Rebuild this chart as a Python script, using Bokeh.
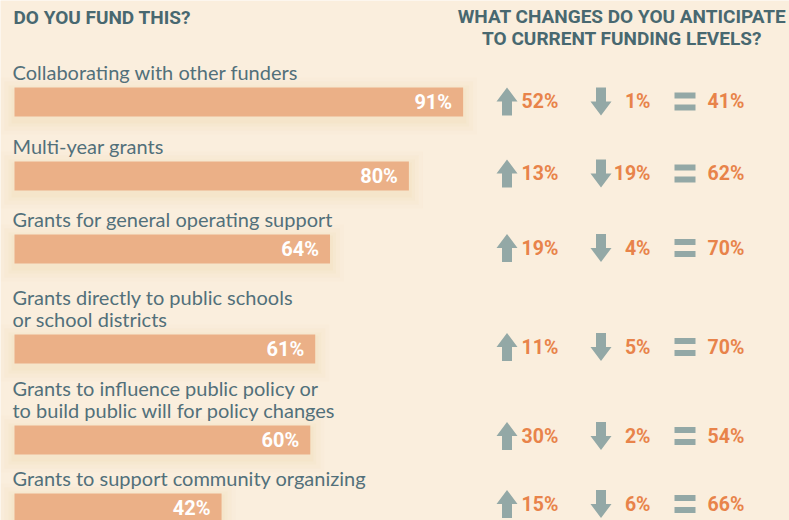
from bokeh.plotting import figure
from bokeh.models import Range1d
from bokeh.embed import file_html
from bokeh.resources import INLINE
from bokeh.core.properties import value

# ---------------- data ----------------
categories = [
    "Collaborating with other funders",
    "Multi-year grants",
    "Grants for general operating support",
    "Grants directly to public schools\nor school districts",
    "Grants to influence public policy or\nto build public will for policy changes",
    "Grants to support community organizing",
]
fund_pct = [91, 80, 64, 61, 60, 42]
increase_pct = [52, 13, 19, 11, 30, 15]
decrease_pct = [1, 19, 4, 5, 2, 6]
same_pct = [41, 62, 70, 70, 54, 66]

title_left = "DO YOU FUND THIS?"
title_right = ["WHAT CHANGES DO YOU ANTICIPATE", "TO CURRENT FUNDING LEVELS?"]

# ---------------- layout / style ----------------
W, H = 789, 520
BG = "#FAEEDD"
BAR = "#EBB087"
SLATE = "#52707A"
TITLE = "#486870"
ORANGE = "#E8834A"
ICON = "#93A8A6"

bar_x0 = 14
px_per_pct = 4.93
bar_tops = [87, 161, 234, 334, 425, 493]
bar_h = 29
icon_cy = [101, 173, 247.5, 346.5, 435.5, 503.5]
line_h = 21.5
base_fix = -7  # baseline correction

p = figure(width=W, height=H, output_backend="svg", toolbar_location=None,
           x_range=Range1d(0, W), y_range=Range1d(H, 0),
           min_border=0, background_fill_color=BG, border_fill_color=BG)
p.axis.visible = False
p.grid.visible = False
p.outline_line_color = None

# titles
p.text(x=[13], y=[24 + base_fix], text=[title_left], text_font=value("Roboto"),
       text_font_style="bold", text_font_size="19px", text_color=TITLE,
       text_baseline="alphabetic", text_align="left")
p.text(x=[621.5, 621.5], y=[23 + base_fix, 45 + base_fix], text=title_right,
       text_font=value("Roboto"), text_font_style="bold", text_font_size="19px",
       text_color=TITLE, text_baseline="alphabetic", text_align="center")

# bars with soft glow
rights = [bar_x0 + px_per_pct * v for v in fund_pct]
for pad, a in [(14, 0.06), (10, 0.08), (6, 0.10), (3, 0.12)]:
    p.quad(left=[bar_x0 - pad for _ in rights], right=[r + pad for r in rights],
           top=[t - pad + 4 for t in bar_tops], bottom=[t + bar_h + pad + 4 for t in bar_tops],
           fill_color="#F0D3A4", fill_alpha=a, line_color=None)
p.quad(left=[bar_x0] * len(rights), right=rights, top=bar_tops,
       bottom=[t + bar_h for t in bar_tops], fill_color=BAR, line_color=None)
p.text(x=[r - 11 for r in rights], y=[t + bar_h / 2 for t in bar_tops],
       text=[f"{v}%" for v in fund_pct], text_font=value("Roboto"),
       text_font_style="bold", text_font_size="20px", text_color="white",
       text_align="right", text_baseline="middle")

# category labels (multi-line split)
lx, ly, lt = [], [], []
for cat, top in zip(categories, bar_tops):
    lines = cat.split("\n")
    n = len(lines)
    for i, ln in enumerate(lines):
        lx.append(12)
        ly.append(top - 9 + base_fix - (n - 1 - i) * line_h)
        lt.append(ln)
p.text(x=lx, y=ly, text=lt, text_font=value("Lato"), text_font_size="20px",
       text_color=SLATE, text_baseline="alphabetic", text_align="left")

# icons
up_cx, down_cx, eq_cx = 506.5, 600.5, 684.5
hw, sw, ht = 10.5, 5, 14
head = 0
up_xs, up_ys, dn_xs, dn_ys = [], [], [], []
for cy in icon_cy:
    up_xs.append([up_cx - hw, up_cx, up_cx + hw, up_cx + sw, up_cx + sw, up_cx - sw, up_cx - sw])
    up_ys.append([cy - head, cy - ht, cy - head, cy - head, cy + ht, cy + ht, cy - head])
    dn_xs.append([down_cx - hw, down_cx, down_cx + hw, down_cx + sw, down_cx + sw, down_cx - sw, down_cx - sw])
    dn_ys.append([cy + head, cy + ht, cy + head, cy + head, cy - ht, cy - ht, cy + head])
p.patches(xs=up_xs, ys=up_ys, fill_color=ICON, line_color=None)
p.patches(xs=dn_xs, ys=dn_ys, fill_color=ICON, line_color=None)
p.rect(x=[eq_cx] * 6, y=[c - 6 for c in icon_cy], width=21, height=6,
       fill_color=ICON, line_color=None)
p.rect(x=[eq_cx] * 6, y=[c + 6 for c in icon_cy], width=21, height=6,
       fill_color=ICON, line_color=None)

common = dict(text_font=value("Roboto"), text_font_style="bold",
              text_font_size="19.5px", text_color=ORANGE, text_baseline="middle")
p.text(x=[521] * 6, y=icon_cy, text=[f"{v}%" for v in increase_pct],
       text_align="left", **common)
p.text(x=[650] * 6, y=icon_cy, text=[f"{v}%" for v in decrease_pct],
       text_align="right", **common)
p.text(x=[707] * 6, y=icon_cy, text=[f"{v}%" for v in same_pct],
       text_align="left", **common)

html = file_html(p, INLINE)
html = html.replace("<body>", f'<body style="background-color:{BG};">', 1)
open("out.html", "w").write(html)
